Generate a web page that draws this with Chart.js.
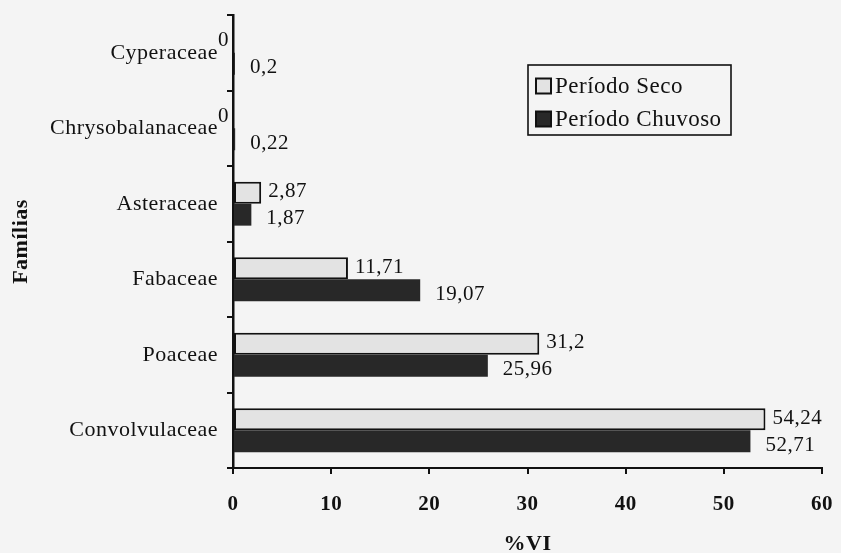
<!DOCTYPE html>
<html>
<head>
<meta charset="utf-8">
<script src="https://cdn.jsdelivr.net/npm/chart.js@4/dist/chart.umd.min.js"></script>
<style>
  html, body { margin: 0; padding: 0; background: #f4f4f4; }
  #wrap { width: 841px; height: 553px; position: relative; }
</style>
</head>
<body>
<div id="wrap"><canvas id="c" width="841" height="553"></canvas></div>
<script>
const categories = ['Cyperaceae', 'Chrysobalanaceae', 'Asteraceae', 'Fabaceae', 'Poaceae', 'Convolvulaceae'];
const seriesNames = ['Período Seco', 'Período Chuvoso'];
const secoValues = [0, 0, 2.87, 11.71, 31.2, 54.24];
const chuvosoValues = [0.2, 0.22, 1.87, 19.07, 25.96, 52.71];
const xTickValues = [0, 10, 20, 30, 40, 50, 60];
const xTitle = '%VI';
const yTitle = 'Famílias';

const FONT = '"Liberation Serif", "Times New Roman", serif';
const SPACING = '0.5px';

function fmt(v) { return String(v).replace('.', ','); }

const bgPlugin = {
  id: 'bg',
  beforeUpdate(chart) { chart.ctx.letterSpacing = SPACING; },
  beforeDraw(chart) {
    const ctx = chart.ctx;
    ctx.save();
    ctx.fillStyle = '#f4f4f4';
    ctx.fillRect(0, 0, chart.width, chart.height);
    ctx.restore();
    ctx.letterSpacing = SPACING;
  }
};

const labelPlugin = {
  id: 'valueLabels',
  afterDatasetsDraw(chart) {
    const ctx = chart.ctx;
    const xScale = chart.scales.x;
    ctx.save();
    ctx.letterSpacing = SPACING;
    ctx.font = '21px ' + FONT;
    ctx.fillStyle = '#111';
    ctx.textBaseline = 'middle';
    chart.data.datasets.forEach((ds, di) => {
      const meta = chart.getDatasetMeta(di);
      meta.data.forEach((bar, i) => {
        const v = ds.data[i];
        const txt = fmt(v);
        if (v === 0) {
          ctx.textAlign = 'right';
          ctx.fillText(txt, xScale.getPixelForValue(0) - 4, bar.y - 1);
        } else {
          ctx.textAlign = 'left';
          const dx = di === 0 ? 7 : 15;
          const dy = di === 0 ? -1 : 4;
          ctx.fillText(txt, Math.max(bar.x, xScale.getPixelForValue(0)) + dx, bar.y + dy);
        }
      });
    });
    ctx.restore();
  }
};

const legendPlugin = {
  id: 'boxLegend',
  afterDraw(chart) {
    const ctx = chart.ctx;
    const bx = 528, by = 65, bw = 203, bh = 70;
    ctx.save();
    ctx.letterSpacing = SPACING;
    ctx.strokeStyle = '#111';
    ctx.lineWidth = 1.6;
    ctx.strokeRect(bx, by, bw, bh);
    ctx.font = '23px ' + FONT;
    ctx.textBaseline = 'middle';
    ctx.textAlign = 'left';
    chart.data.datasets.forEach((ds, i) => {
      const cy = by + 21 + i * 33;
      ctx.fillStyle = ds.backgroundColor;
      ctx.fillRect(536, cy - 7.5, 15, 15);
      ctx.strokeStyle = '#111';
      ctx.lineWidth = 2;
      ctx.strokeRect(536, cy - 7.5, 15, 15);
      ctx.fillStyle = '#111';
      ctx.fillText(ds.label, 555, cy + 1);
    });
    ctx.restore();
  }
};

new Chart(document.getElementById('c'), {
  type: 'bar',
  data: {
    labels: categories,
    datasets: [
      { label: seriesNames[0], data: secoValues, backgroundColor: '#e3e3e3', borderColor: '#111', borderWidth: 2, borderSkipped: false },
      { label: seriesNames[1], data: chuvosoValues, backgroundColor: '#282828', borderColor: '#282828', borderWidth: 0 }
    ]
  },
  options: {
    indexAxis: 'y',
    responsive: false,
    animation: false,
    events: [],
    layout: { padding: { top: 15, right: 19, left: 0, bottom: 0 } },
    datasets: { bar: { categoryPercentage: 0.58, barPercentage: 1.0 } },
    plugins: { legend: { display: false }, tooltip: { enabled: false } },
    scales: {
      x: {
        type: 'linear',
        min: 0, max: 60,
        afterBuildTicks(scale) { scale.ticks = xTickValues.map(v => ({ value: v })); },
        afterFit(scale) { scale.height = 85; scale.paddingLeft = 0; scale.paddingRight = 0; },
        grid: { drawOnChartArea: false, drawTicks: true, tickLength: 6, color: '#111', lineWidth: 2 },
        border: { display: true, color: '#111', width: 2 },
        ticks: { color: '#111', padding: 18, font: { family: FONT, size: 21, weight: 'bold' }, maxRotation: 0 },
        title: { display: true, text: xTitle, color: '#111', font: { family: FONT, size: 22, weight: 'bold', lineHeight: 1 }, padding: { top: 0, bottom: -2 } }
      },
      y: {
        type: 'category',
        offset: true,
        afterFit(scale) { scale.width = 233; scale.paddingTop = 0; scale.paddingBottom = 0; },
        grid: { offset: true, drawOnChartArea: false, drawTicks: true, tickLength: 6, color: '#111', lineWidth: 2 },
        border: { display: true, color: '#111', width: 2.5 },
        ticks: { color: '#111', padding: 9, font: { family: FONT, size: 22 } },
        title: { display: true, text: yTitle, color: '#111', font: { family: FONT, size: 22, weight: 'bold', lineHeight: 1.2 }, padding: { top: 8, bottom: 0 } }
      }
    }
  },
  plugins: [bgPlugin, labelPlugin, legendPlugin]
});
</script>
</body>
</html>
